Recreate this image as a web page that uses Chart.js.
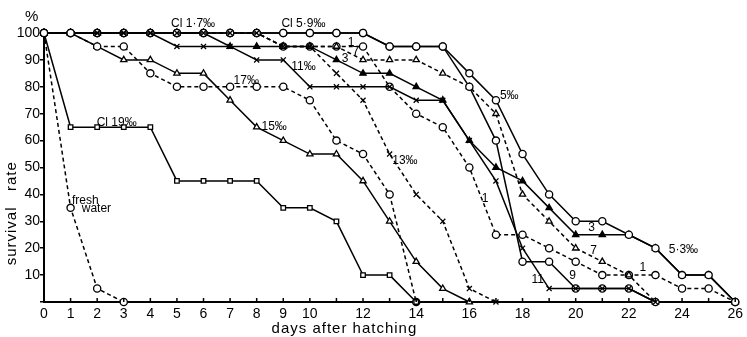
<!DOCTYPE html>
<html>
<head>
<meta charset="utf-8">
<script src="https://cdn.jsdelivr.net/npm/chart.js@4/dist/chart.umd.min.js"></script>
<style>
html, body { margin: 0; padding: 0; background: #fff; }
canvas { display: block; }
</style>
</head>
<body>
<canvas id="survival" width="747" height="337"></canvas>
<script>
// days after hatching
var days = [0, 1, 2, 3, 4, 5, 6, 7, 8, 9, 10, 11, 12, 13, 14, 15, 16, 17, 18, 19, 20, 21, 22, 23, 24, 25, 26];

// survival rate (%) per chlorinity, indexed by day
var freshWater = [100, 35, 5, 0];
var cl19 = [100, 65, 65, 65, 65, 45, 45, 45, 45, 35, 35, 30, 10, 10, 0];
var cl17 = [100, 100, 95, 95, 85, 80, 80, 80, 80, 80, 75, 60, 55, 40, 0];
var cl15 = [100, 100, 95, 90, 90, 85, 85, 75, 65, 60, 55, 55, 45, 30, 15, 5, 0];
var cl13 = [100, 100, 100, 100, 100, 100, 100, 100, 100, 95, 95, 85, 75, 55, 40, 30, 5, 0];
var cl11 = [100, 100, 100, 100, 100, 95, 95, 95, 90, 90, 80, 80, 80, 80, 75, 75, 60, 45, 20, 5, 5, 5, 5, 0];
var cl9 = [100, 100, 100, 100, 100, 100, 100, 100, 100, 100, 100, 100, 100, 95, 95, 95, 80, 60, 15, 15, 5, 5, 5, 0];
var cl7 = [100, 100, 100, 100, 100, 100, 100, 100, 100, 95, 95, 95, 90, 90, 90, 85, 80, 70, 40, 30, 20, 15, 10, 0];
var cl5 = [100, 100, 100, 100, 100, 100, 100, 100, 100, 100, 100, 100, 100, 95, 95, 95, 85, 75, 55, 40, 30, 30, 25, 20, 10, 10, 0];
var cl3 = [100, 100, 100, 100, 100, 100, 100, 95, 95, 95, 95, 90, 85, 85, 80, 75, 60, 50, 45, 35, 25, 25, 25, 20, 10, 10, 0];
var cl1 = [100, 100, 100, 100, 100, 100, 100, 100, 100, 95, 95, 95, 95, 80, 70, 65, 50, 25, 25, 20, 15, 10, 10, 10, 5, 5, 0];

// hand lettering on the plot, placed in data units (day, %)
var notes = [
    { t: 'Cl 1·7‰', x: 4.78, y: 103.4 },
    { t: 'Cl 5·9‰', x: 8.93, y: 103.4 },
    { t: '17‰', x: 7.13, y: 82.4 },
    { t: '15‰', x: 8.18, y: 65.3 },
    { t: '11‰', x: 9.3, y: 87.3 },
    { t: '13‰', x: 13.1, y: 52.7 },
    { t: 'Cl 19‰', x: 1.98, y: 66.8 },
    { t: 'fresh', x: 1.05, y: 37.8 },
    { t: 'water', x: 1.42, y: 34.6 },
    { t: '5‰', x: 17.15, y: 76.8 },
    { t: '1', x: 11.43, y: 96.4 },
    { t: '7', x: 11.6, y: 93.2 },
    { t: '3', x: 11.2, y: 90.6 },
    { t: '1', x: 16.47, y: 38.5 },
    { t: '5·3‰', x: 23.5, y: 19.6 },
    { t: '3', x: 20.47, y: 27.5 },
    { t: '7', x: 20.55, y: 19.2 },
    { t: '1', x: 22.4, y: 12.9 },
    { t: '9', x: 19.76, y: 9.9 },
    { t: '11', x: 18.34, y: 8.4 }
];

function series(values, marker, dashed, filled) {
    return {
        data: values,
        borderColor: '#000',
        borderWidth: 1.5,
        borderDash: dashed ? [4, 3] : [],
        pointStyle: marker,
        pointRadius: marker === 'rect' ? 3.2 : 3.6,
        pointBorderColor: '#000',
        pointBorderWidth: 1.3,
        pointBackgroundColor: filled ? '#000' : '#fff',
        tension: 0,
        clip: false
    };
}

var ink = {
    id: 'ink',
    afterDraw: function (chart) {
        var ctx = chart.ctx;
        var x = chart.scales.x;
        var y = chart.scales.y;
        ctx.save();
        ctx.fillStyle = '#000';
        ctx.strokeStyle = '#000';

        // inward tick marks on the day axis
        ctx.lineWidth = 1.5;
        days.forEach(function (d) {
            var px = x.getPixelForValue(d);
            ctx.beginPath();
            ctx.moveTo(px, y.bottom);
            ctx.lineTo(px, y.bottom - 4);
            ctx.stroke();
        });

        ctx.font = '12px "Liberation Sans", sans-serif';
        ctx.textBaseline = 'middle';
        ctx.textAlign = 'left';
        notes.forEach(function (n) {
            ctx.fillText(n.t, x.getPixelForValue(n.x), y.getPixelForValue(n.y));
        });

        ctx.font = '15px "Liberation Sans", sans-serif';
        ctx.fillText('%', chart.chartArea.left - 19, chart.chartArea.top - 16);

        ctx.textAlign = 'center';
        ctx.letterSpacing = '1px';
        ctx.fillText('days after hatching', x.getPixelForValue(11.3), 329);

        ctx.translate(12, y.getPixelForValue(33));
        ctx.rotate(-Math.PI / 2);
        ctx.fillText('survival   rate', 0, 0);
        ctx.restore();
    }
};

new Chart(document.getElementById('survival').getContext('2d'), {
    type: 'line',
    data: {
        labels: days,
        datasets: [
            series(freshWater, 'circle', true, false),
            series(cl19, 'rect', false, false),
            series(cl17, 'circle', true, false),
            series(cl15, 'triangle', false, false),
            series(cl13, 'crossRot', true, false),
            series(cl11, 'crossRot', false, false),
            series(cl9, 'circle', false, false),
            series(cl7, 'triangle', true, false),
            series(cl5, 'circle', false, false),
            series(cl3, 'triangle', false, true),
            series(cl1, 'circle', true, false)
        ]
    },
    options: {
        responsive: false,
        animation: false,
        devicePixelRatio: 1,
        layout: { padding: { top: 33, right: 7, left: 0, bottom: 0 } },
        plugins: {
            legend: { display: false },
            tooltip: { enabled: false }
        },
        scales: {
            x: {
                type: 'linear',
                min: 0,
                max: 26,
                afterFit: function (s) { s.height = 35; },
                grid: { display: false, drawTicks: false, tickLength: 0 },
                border: { display: true, color: '#000', width: 2 },
                ticks: {
                    stepSize: 1,
                    autoSkip: false,
                    maxRotation: 0,
                    padding: 4,
                    color: '#000',
                    font: { family: 'Liberation Sans', size: 14 },
                    callback: function (v) {
                        return (v <= 10 || v % 2 === 0) ? String(v) : '';
                    }
                }
            },
            y: {
                min: 0,
                max: 100,
                afterFit: function (s) { s.width = 44; },
                grid: {
                    display: true,
                    drawOnChartArea: false,
                    drawTicks: true,
                    tickLength: 4,
                    color: '#000',
                    lineWidth: 1.5
                },
                border: { display: true, color: '#000', width: 2 },
                ticks: {
                    stepSize: 10,
                    padding: 0,
                    color: '#000',
                    font: { family: 'Liberation Sans', size: 14 },
                    callback: function (v) { return v === 0 ? '' : String(v); }
                }
            }
        }
    },
    plugins: [ink]
});
</script>
</body>
</html>
